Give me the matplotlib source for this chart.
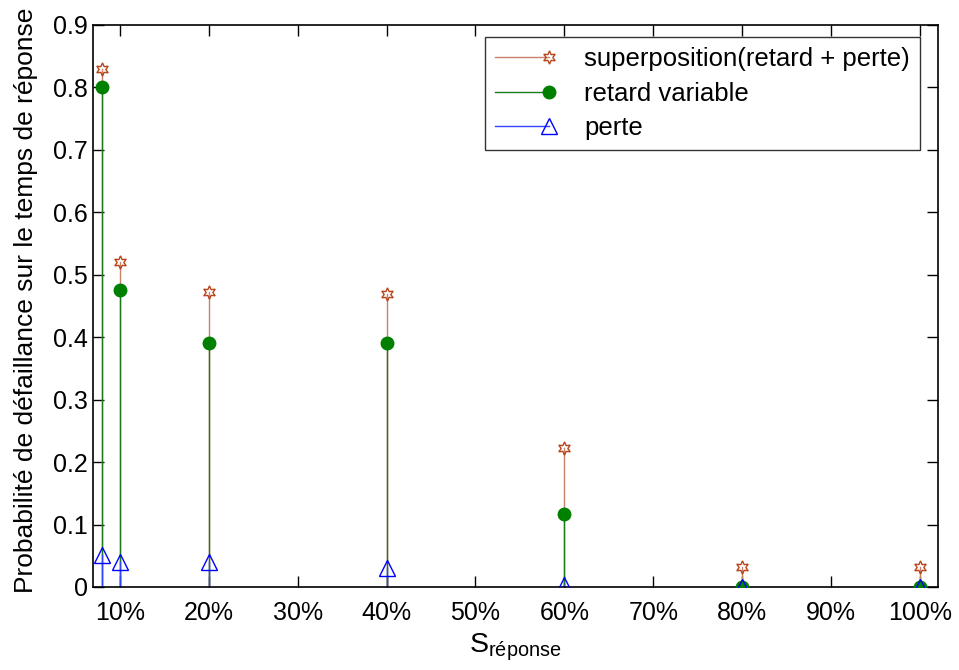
import matplotlib
matplotlib.use("Agg")
import matplotlib.pyplot as plt
from matplotlib.legend_handler import HandlerBase
from matplotlib.lines import Line2D

plt.rcParams['font.family'] = ['Liberation Sans', 'DejaVu Sans']
plt.rcParams['mathtext.fontset'] = 'custom'
plt.rcParams['mathtext.rm'] = 'Liberation Sans'
plt.rcParams['mathtext.it'] = 'Liberation Sans'

x_vals = [0.08, 0.10, 0.20, 0.40, 0.60, 0.80, 1.00]
superposition = [0.83, 0.52, 0.472, 0.47, 0.222, 0.032, 0.032]
retard = [0.80, 0.475, 0.39, 0.39, 0.117, 0.0, 0.0]
perte = [0.052, 0.04, 0.04, 0.03, 0.004, 0.0, 0.0]
xticks = [0.1, 0.2, 0.3, 0.4, 0.5, 0.6, 0.7, 0.8, 0.9, 1.0]
xticklabels = ['10%', '20%', '30%', '40%', '50%', '60%', '70%', '80%', '90%', '100%']
yticks = [0, 0.1, 0.2, 0.3, 0.4, 0.5, 0.6, 0.7, 0.8, 0.9]
yticklabels = ['0', '0.1', '0.2', '0.3', '0.4', '0.5', '0.6', '0.7', '0.8', '0.9']

W, H = 959, 670
fig = plt.figure(figsize=(W / 100, H / 100), dpi=100)
L, R, T, B = 93, 938, 25, 587
ax = fig.add_axes([L / W, 1 - B / H, (R - L) / W, (B - T) / H])

series = [
    (superposition, '#c8826a', '#b8441a', (6, 1, 0), 9.5, 'none', 'superposition(retard + perte)'),
    (retard, '#1a7a1a', '#008000', 'o', 9, '#008000', 'retard variable'),
    (perte, '#3344ff', '#0000ff', '^', 12, 'none', 'perte'),
]
handles = []
for vals, lc, mc, mk, ms, mfc, lab in series:
    for xv, yv in zip(x_vals, vals):
        ax.plot([xv, xv], [0, yv], color=lc, lw=1.0, zorder=2)
    ax.plot(x_vals, vals, linestyle='none', marker=mk, markersize=ms,
            markeredgecolor=mc, markerfacecolor=mfc, markeredgewidth=1.0, zorder=3)
    handles.append(Line2D([], [], color=lc, lw=1.0, marker=mk, markersize=ms,
                          markeredgecolor=mc, markerfacecolor=mfc, label=lab))


class EndMarkerHandler(HandlerBase):
    def create_artists(self, legend, orig_handle, xdescent, ydescent,
                       width, height, fontsize, trans):
        y = (height - ydescent) / 2
        x0, x1 = -xdescent, -xdescent + width
        line = Line2D([x0, x1], [y, y], color=orig_handle.get_color(), lw=1.0)
        mk = Line2D([x1], [y], linestyle='none', marker=orig_handle.get_marker(),
                    markersize=orig_handle.get_markersize(),
                    markeredgecolor=orig_handle.get_markeredgecolor(),
                    markerfacecolor=orig_handle.get_markerfacecolor(),
                    markeredgewidth=1.0)
        line.set_transform(trans)
        mk.set_transform(trans)
        return [line, mk]


ax.set_xlim(0.07, 1.02)
ax.set_ylim(0, 0.9)
ax.set_xticks(xticks)
ax.set_xticklabels(xticklabels)
ax.set_yticks(yticks)
ax.set_yticklabels(yticklabels)
ax.tick_params(direction='in', length=8, width=1, top=True, right=True, labelsize=18)
ax.tick_params(axis='x', pad=10)
ax.tick_params(axis='y', pad=3.5)
for s in ax.spines.values():
    s.set_linewidth(1.2)

ax.set_ylabel('Probabilité de défaillance sur le temps de réponse', fontsize=19)
ax.yaxis.set_label_coords((38 - L) / (R - L), (B - 300) / (B - T))
ax.set_xlabel('S$_{\\mathrm{réponse}}$', fontsize=20.5, labelpad=5)

leg = ax.legend(handles=handles, loc='upper right', fontsize=18.5,
                handler_map={Line2D: EndMarkerHandler()},
                bbox_to_anchor=((920 - L) / (R - L), (B - 37) / (B - T)),
                borderaxespad=0,
                frameon=True, fancybox=False, edgecolor='black',
                handlelength=2.1, handletextpad=1.35,
                labelspacing=0.4, borderpad=0.4)
leg.get_frame().set_linewidth(1.0)

fig.savefig('out.png', dpi=100)
